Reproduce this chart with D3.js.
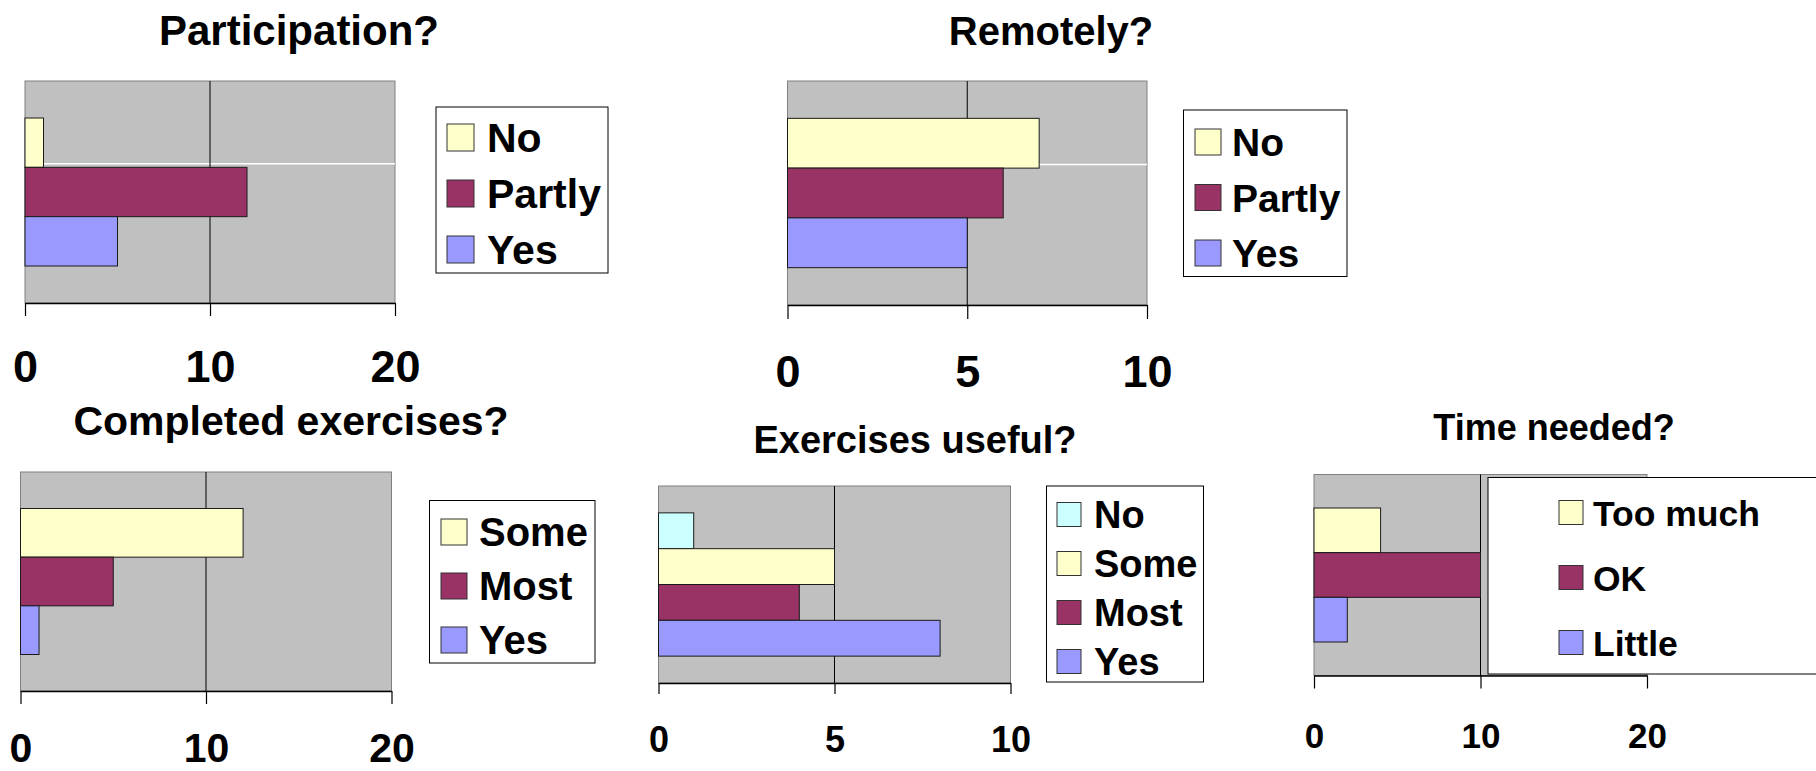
<!DOCTYPE html>
<html>
<head>
    <meta charset="utf-8">
    <script src="https://d3js.org/d3.v7.min.js"></script>
    <title>Survey bar charts</title>
    <style>
        body { margin: 0; background: #fff; }
        svg text {
            font-family: "Liberation Sans", Arial, sans-serif;
            font-weight: bold;
            fill: #000;
        }
        .plot { fill: #c0c0c0; stroke: #808080; stroke-width: 1; }
        .grid { stroke: #000; stroke-width: 1; }
        .bar { stroke: #1a1a1a; stroke-width: 1; }
        .legend-box { fill: #fff; stroke: #000; stroke-width: 1; }
    </style>
</head>
<body>
<svg width="1816" height="771"></svg>
<script>
    // data
    var titles = ["Participation?", "Remotely?", "Completed exercises?", "Exercises useful?", "Time needed?"];

    var partCats = ["No", "Partly", "Yes"];
    var partVals = [1, 12, 5];

    var remoteCats = ["No", "Partly", "Yes"];
    var remoteVals = [7, 6, 5];

    var doneCats = ["Some", "Most", "Yes"];
    var doneVals = [12, 5, 1];

    var usefulCats = ["No", "Some", "Most", "Yes"];
    var usefulVals = [1, 5, 4, 8];

    var timeCats = ["Too much", "OK", "Little"];
    var timeVals = [4, 10, 2];

    var ticks20 = [0, 10, 20];
    var ticks10 = [0, 5, 10];

    var yellow = "#ffffcc", maroon = "#993366", blue = "#9999ff", cyan = "#ccffff";

    // layout of each panel (pixels)
    var charts = [
        { title: titles[0], cats: partCats, vals: partVals, colors: [yellow, maroon, blue], ticks: ticks20,
          plot: [25, 81, 395, 303], tickLen: 13, pad: 34, tickFont: 45, tx: 299, ty: 45, titleFont: 42,
          whiteLine: true,
          legend: { box: [436, 107, 608, 273], x: 447, sw: 27, first: 124, step: 56, tx: 487, font: 41 } },
        { title: titles[1], cats: remoteCats, vals: remoteVals, colors: [yellow, maroon, blue], ticks: ticks10,
          plot: [787.5, 81, 1147, 305], tickLen: 14, pad: 36, tickFont: 45, tx: 1051, ty: 45, titleFont: 40,
          whiteLine: true,
          legend: { box: [1183.5, 110, 1347, 276.5], x: 1195, sw: 26, first: 129, step: 55.5, tx: 1232, font: 39 } },
        { title: titles[2], cats: doneCats, vals: doneVals, colors: [yellow, maroon, blue], ticks: ticks20,
          plot: [20.5, 472, 391.5, 691], tickLen: 13, pad: 29, tickFont: 41, tx: 291, ty: 435, titleFont: 41,
          legend: { box: [429.5, 500.5, 595, 663], x: 441, sw: 26, first: 519, step: 54, tx: 479, font: 40 } },
        { title: titles[3], cats: usefulCats, vals: usefulVals, colors: [cyan, yellow, maroon, blue], ticks: ticks10,
          plot: [658.5, 486, 1010.5, 683], tickLen: 11, pad: 32, tickFont: 36, tx: 915, ty: 453, titleFont: 38,
          legend: { box: [1046.5, 486, 1203.5, 682], x: 1057, sw: 24, first: 502.5, step: 49, tx: 1094, font: 38 } },
        { title: titles[4], cats: timeCats, vals: timeVals, colors: [yellow, maroon, blue], ticks: ticks20,
          plot: [1314, 474.5, 1647, 675.5], tickLen: 13, pad: 35, tickFont: 35, tx: 1554, ty: 440, titleFont: 36,
          legend: { box: [1488, 477.5, 1830, 674], x: 1559, sw: 24, first: 500.5, step: 65, tx: 1593, font: 35.5 } }
    ];

    var svg = d3.select("svg");

    charts.forEach(function (c) {
        var p = c.plot;
        var g = svg.append("g");

        var x = d3.scaleLinear()
            .domain([0, c.ticks[c.ticks.length - 1]])
            .range([p[0], p[2]]);

        // gap width 150% like the spreadsheet default
        var y = d3.scaleBand()
            .domain(c.cats)
            .range([p[1], p[3]])
            .paddingInner(0)
            .paddingOuter(0.75);

        g.append("text")
            .attr("x", c.tx).attr("y", c.ty)
            .attr("text-anchor", "middle")
            .attr("font-size", c.titleFont + "px")
            .text(c.title);

        g.append("rect")
            .attr("class", "plot")
            .attr("x", p[0]).attr("y", p[1])
            .attr("width", p[2] - p[0]).attr("height", p[3] - p[1]);

        if (c.whiteLine) {
            g.append("line")
                .attr("x1", p[0]).attr("x2", p[2])
                .attr("y1", y(c.cats[0]) + y.bandwidth() - 3.5)
                .attr("y2", y(c.cats[0]) + y.bandwidth() - 3.5)
                .attr("stroke", "#fff").attr("stroke-width", 1.5);
        }

        g.selectAll(".grid")
            .data(c.ticks.slice(1, -1))
            .enter().append("line")
            .attr("class", "grid")
            .attr("x1", function (d) { return x(d); })
            .attr("x2", function (d) { return x(d); })
            .attr("y1", p[1]).attr("y2", p[3]);

        g.selectAll(".bar")
            .data(c.vals)
            .enter().append("rect")
            .attr("class", "bar")
            .attr("x", x(0))
            .attr("y", function (d, i) { return y(c.cats[i]); })
            .attr("width", function (d) { return x(d) - x(0); })
            .attr("height", y.bandwidth())
            .attr("fill", function (d, i) { return c.colors[i]; });

        var axis = g.append("g")
            .attr("transform", "translate(0," + p[3] + ")")
            .call(d3.axisBottom(x)
                .tickValues(c.ticks)
                .tickSize(c.tickLen)
                .tickSizeOuter(0)
                .tickPadding(c.pad)
                .tickFormat(d3.format("d")));
        axis.select(".domain").attr("stroke", "#000").attr("stroke-width", 1.5);
        axis.selectAll(".tick line").attr("stroke", "#000").attr("stroke-width", 1.2);
        axis.selectAll(".tick text")
            .attr("font-size", c.tickFont + "px")
            .attr("font-family", "'Liberation Sans', Arial, sans-serif")
            .attr("font-weight", "bold")
            .attr("fill", "#000");

        // legend
        var L = c.legend;
        var lg = g.append("g");
        lg.append("rect")
            .attr("class", "legend-box")
            .attr("x", L.box[0]).attr("y", L.box[1])
            .attr("width", L.box[2] - L.box[0]).attr("height", L.box[3] - L.box[1]);

        var rows = lg.selectAll(".row")
            .data(c.cats)
            .enter().append("g")
            .attr("transform", function (d, i) { return "translate(0," + (L.first + i * L.step) + ")"; });

        rows.append("rect")
            .attr("x", L.x).attr("y", 0)
            .attr("width", L.sw).attr("height", L.sw)
            .attr("fill", function (d, i) { return c.colors[i]; })
            .attr("stroke", "#333").attr("stroke-width", 1);

        rows.append("text")
            .attr("x", L.tx).attr("y", L.sw + 1)
            .attr("font-size", L.font + "px")
            .text(function (d) { return d; });
    });
</script>
</body>
</html>
